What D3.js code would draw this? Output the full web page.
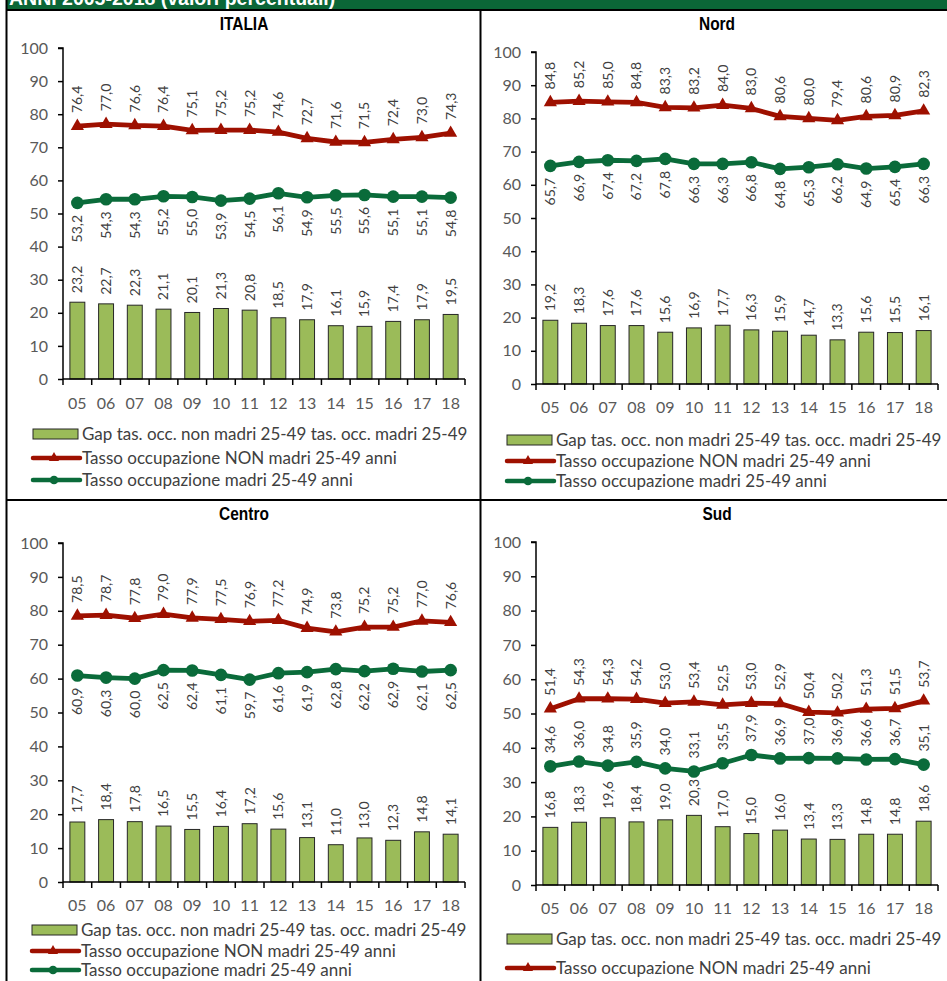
<!DOCTYPE html>
<html><head><meta charset="utf-8">
<script src="https://cdn.jsdelivr.net/npm/d3@7"></script>
<style>
html,body{margin:0;padding:0;background:#fff;overflow:hidden}
svg{display:block}
</style></head>
<body>
<script>
const years = ["05","06","07","08","09","10","11","12","13","14","15","16","17","18"];
const yTicks = [0,10,20,30,40,50,60,70,80,90,100];

const italiaGap   = [23.2,22.7,22.3,21.1,20.1,21.3,20.8,18.5,17.9,16.1,15.9,17.4,17.9,19.5];
const italiaNon   = [76.4,77.0,76.6,76.4,75.1,75.2,75.2,74.6,72.7,71.6,71.5,72.4,73.0,74.3];
const italiaMadri = [53.2,54.3,54.3,55.2,55.0,53.9,54.5,56.1,54.9,55.5,55.6,55.1,55.1,54.8];

const nordGap   = [19.2,18.3,17.6,17.6,15.6,16.9,17.7,16.3,15.9,14.7,13.3,15.6,15.5,16.1];
const nordNon   = [84.8,85.2,85.0,84.8,83.3,83.2,84.0,83.0,80.6,80.0,79.4,80.6,80.9,82.3];
const nordMadri = [65.7,66.9,67.4,67.2,67.8,66.3,66.3,66.8,64.8,65.3,66.2,64.9,65.4,66.3];

const centroGap   = [17.7,18.4,17.8,16.5,15.5,16.4,17.2,15.6,13.1,11.0,13.0,12.3,14.8,14.1];
const centroNon   = [78.5,78.7,77.8,79.0,77.9,77.5,76.9,77.2,74.9,73.8,75.2,75.2,77.0,76.6];
const centroMadri = [60.9,60.3,60.0,62.5,62.4,61.1,59.7,61.6,61.9,62.8,62.2,62.9,62.1,62.5];

const sudGap   = [16.8,18.3,19.6,18.4,19.0,20.3,17.0,15.0,16.0,13.4,13.3,14.8,14.8,18.6];
const sudNon   = [51.4,54.3,54.3,54.2,53.0,53.4,52.5,53.0,52.9,50.4,50.2,51.3,51.5,53.7];
const sudMadri = [34.6,36.0,34.8,35.9,34.0,33.1,35.5,37.9,36.9,37.0,36.9,36.6,36.7,35.1];

const legendLabels = ["Gap tas. occ. non madri 25-49 tas. occ. madri 25-49",
                      "Tasso occupazione NON madri 25-49 anni",
                      "Tasso occupazione madri 25-49 anni"];
const headerText = "ANNI 2005-2018 (valori percentuali)";

const panels = [
  {title:"ITALIA", gap:italiaGap, non:italiaNon, madri:italiaMadri, madriAbove:false,
   ax:63, xe:465, y100:48, y0:379, tx:244, ty:30, xly:403, lx:33, rows:[434,458,480]},
  {title:"Nord", gap:nordGap, non:nordNon, madri:nordMadri, madriAbove:false,
   ax:536, xe:938, y100:52, y0:384, tx:717, ty:30, xly:407, lx:507, rows:[440,461,481]},
  {title:"Centro", gap:centroGap, non:centroNon, madri:centroMadri, madriAbove:false,
   ax:63, xe:465, y100:543, y0:882, tx:244, ty:520, xly:905, lx:32, rows:[930,951,970]},
  {title:"Sud", gap:sudGap, non:sudNon, madri:sudMadri, madriAbove:true,
   ax:536, xe:938, y100:542, y0:885, tx:717, ty:520, xly:908, lx:507, rows:[939,968,1006]}
];

const RED = "#9E1000", GREEN = "#0A6B3A", BAR = "#9BBB59";
const FONT = "Lato, 'Open Sans', sans-serif";
const fmt = v => d3.format(".1f")(v).replace(".", ",");

const W = 947, H = 981;
const svg = d3.select("body").append("svg").attr("width", W).attr("height", H);

// header band
svg.append("rect").attr("x",7).attr("y",0).attr("width",W-7).attr("height",9).attr("fill","#0B6637");
svg.append("text").attr("x",9).attr("y",5).attr("fill","#fff")
  .attr("font-family","'Liberation Sans', Arial, sans-serif").attr("font-weight","bold")
  .attr("font-size",19.5).text(headerText);

// frame lines
const frame = svg.append("g").attr("stroke","#000").attr("stroke-width",2);
frame.append("line").attr("x1",6).attr("x2",W).attr("y1",10).attr("y2",10);
frame.append("line").attr("x1",6.5).attr("x2",6.5).attr("y1",0).attr("y2",H);
frame.append("line").attr("x1",480.5).attr("x2",480.5).attr("y1",10).attr("y2",H);
frame.append("line").attr("x1",6).attr("x2",W).attr("y1",500).attr("y2",500);

panels.forEach(p => {
  const g = svg.append("g");
  const x = d3.scaleBand().domain(years).range([p.ax, p.xe]).paddingInner(0.48).paddingOuter(0.24);
  const xb = d3.scaleBand().domain(years).range([p.ax, p.xe]);
  const y = d3.scaleLinear().domain([0,100]).range([p.y0, p.y100]);
  const cx = d => xb(d) + xb.bandwidth()/2;

  // title
  g.append("g").attr("transform",`translate(${p.tx},${p.ty}) scale(0.86,1)`)
    .append("text").attr("text-anchor","middle")
    .attr("font-family","'Liberation Sans',Arial,sans-serif")
    .attr("font-weight","bold").attr("font-size",18).attr("fill","#000").text(p.title);

  // y axis
  const ya = g.append("g").attr("transform",`translate(${p.ax},0)`)
    .call(d3.axisLeft(y).tickValues(yTicks).tickSize(5).tickPadding(10).tickFormat(d3.format("d")));
  ya.select(".domain").attr("stroke","#000").attr("stroke-width",1.5).attr("d",`M-5,${p.y100}H0V${p.y0}`);
  ya.selectAll(".tick line").attr("stroke","#000").attr("stroke-width",1.5);
  ya.selectAll(".tick text").attr("font-family",FONT).attr("font-size",16).attr("fill","#595959");

  // bars
  g.selectAll(".bar").data(p.gap).join("rect")
    .attr("x",(d,i)=>x(years[i])).attr("width",x.bandwidth())
    .attr("y",d=>y(d)).attr("height",d=>y(0)-y(d))
    .attr("fill",BAR).attr("stroke","#262626").attr("stroke-width",1);

  // x axis
  const xa = g.append("g").attr("transform",`translate(0,${p.y0})`)
    .call(d3.axisBottom(xb).tickSize(0).tickPadding(0).tickFormat(d=>d));
  xa.select(".domain").attr("stroke","#000").attr("stroke-width",1.5).attr("d",`M${p.ax},0H${p.xe}`);
  xa.selectAll(".tick text").attr("font-family",FONT).attr("font-size",16).attr("fill","#595959")
    .attr("y", p.xly - p.y0).attr("dy","0.35em");
  const bounds = years.map(d=>xb(d)).concat([p.xe]);
  g.append("g").selectAll("line").data(bounds).join("line")
    .attr("x1",d=>d).attr("x2",d=>d).attr("y1",p.y0).attr("y2",p.y0+6)
    .attr("stroke","#000").attr("stroke-width",1.5);

  // lines
  const line = d3.line().x((d,i)=>cx(years[i])).y(d=>y(d));
  g.append("path").datum(p.non).attr("d",line).attr("fill","none").attr("stroke",RED)
    .attr("stroke-width",4.8).attr("stroke-linejoin","round");
  g.append("path").datum(p.madri).attr("d",line).attr("fill","none").attr("stroke",GREEN)
    .attr("stroke-width",4.8).attr("stroke-linejoin","round");

  const tri = d3.symbol().type(d3.symbolTriangle).size(75);
  const circ = d3.symbol().type(d3.symbolCircle).size(125);
  g.selectAll(".tri").data(p.non).join("path")
    .attr("transform",(d,i)=>`translate(${cx(years[i])},${y(d)})`).attr("d",tri).attr("fill",RED);
  g.selectAll(".circ").data(p.madri).join("path")
    .attr("transform",(d,i)=>`translate(${cx(years[i])},${y(d)})`).attr("d",circ).attr("fill",GREEN);

  // data labels
  const lab = (data, gap, anchor) => g.selectAll(null).data(data).join("text")
    .attr("transform",(d,i)=>`translate(${cx(years[i])},${y(d)+gap}) rotate(-90)`)
    .attr("text-anchor",anchor).attr("dy","0.35em")
    .attr("font-family",FONT).attr("font-size",14).attr("fill","#404040").text(fmt);
  lab(p.non, -13, "start");
  if (p.madriAbove) lab(p.madri, -13, "start"); else lab(p.madri, 12, "end");
  lab(p.gap, -9, "start");

  // legend
  const lg = g.append("g").attr("font-family",FONT).attr("font-size",17).attr("fill","#404040");
  const tX = p.lx + 49;
  lg.append("rect").attr("x",p.lx).attr("y",p.rows[0]-5).attr("width",45).attr("height",10)
    .attr("fill",BAR).attr("stroke","#262626").attr("stroke-width",1);
  lg.append("line").attr("x1",p.lx).attr("x2",p.lx+47).attr("y1",p.rows[1]).attr("y2",p.rows[1])
    .attr("stroke",RED).attr("stroke-width",4.5).attr("stroke-linecap","round");
  lg.append("path").attr("transform",`translate(${p.lx+21},${p.rows[1]})`)
    .attr("d",d3.symbol().type(d3.symbolTriangle).size(45)()).attr("fill",RED);
  lg.append("line").attr("x1",p.lx).attr("x2",p.lx+47).attr("y1",p.rows[2]).attr("y2",p.rows[2])
    .attr("stroke",GREEN).attr("stroke-width",4.5).attr("stroke-linecap","round");
  lg.append("path").attr("transform",`translate(${p.lx+21},${p.rows[2]})`)
    .attr("d",d3.symbol().type(d3.symbolCircle).size(60)()).attr("fill",GREEN);
  legendLabels.forEach((t,i)=>{
    lg.append("text").attr("x",tX).attr("y",p.rows[i]).attr("dy","0.35em").text(t);
  });
});
</script>
</body></html>
